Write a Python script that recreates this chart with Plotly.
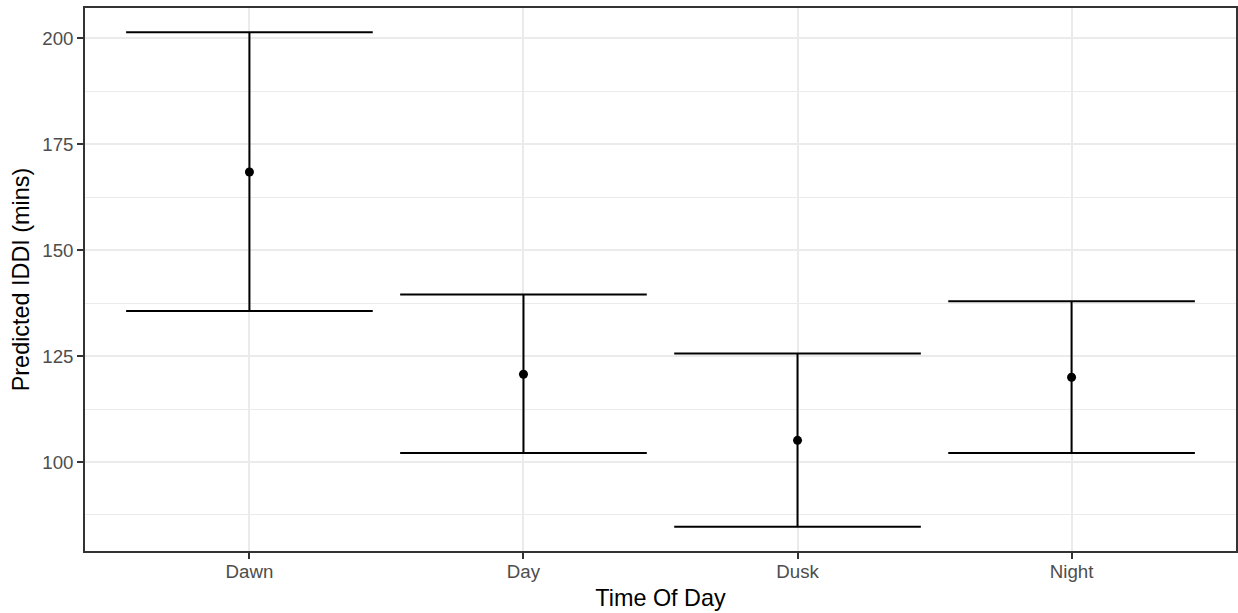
import plotly.graph_objects as go

categories = ["Dawn", "Day", "Dusk", "Night"]
predicted = [168.4, 120.7, 105.1, 120.0]
upper = [201.4, 139.5, 125.6, 137.9]
lower = [135.6, 102.1, 84.7, 102.1]
y_ticks = [100, 125, 150, 175, 200]

bar_width = 0.9
xpos = list(range(1, len(categories) + 1))

ex, ey = [], []
for x, lo, hi in zip(xpos, lower, upper):
    ex += [x - bar_width / 2, x + bar_width / 2, None,
           x - bar_width / 2, x + bar_width / 2, None,
           x, x, None]
    ey += [hi, hi, None, lo, lo, None, lo, hi, None]

fig = go.Figure()
fig.add_trace(go.Scatter(x=ex, y=ey, mode="lines",
                         line=dict(color="black", width=2),
                         hoverinfo="skip", showlegend=False))
fig.add_trace(go.Scatter(x=xpos, y=predicted, mode="markers",
                         marker=dict(color="black", size=9),
                         showlegend=False))

font_family = "Liberation Sans, Arial, sans-serif"
fig.update_layout(
    width=1238, height=613,
    margin=dict(l=85, r=2, t=8, b=62, autoexpand=False),
    paper_bgcolor="white", plot_bgcolor="white",
    font=dict(family=font_family),
    showlegend=False,
)
fig.update_xaxes(
    range=[0.4, 4.6], tickvals=xpos, ticktext=categories,
    showgrid=True, gridcolor="#EBEBEB", gridwidth=2,
    zeroline=False, automargin=False,
    showline=True, mirror=True, linecolor="#333333", linewidth=1.5,
    ticks="outside", ticklen=6, tickwidth=1.5, tickcolor="#333333",
    ticklabelstandoff=-3,
    tickfont=dict(size=18.7, color="#4D4D4D", family=font_family),
    title=dict(text="Time Of Day", font=dict(size=23.4, color="black", family=font_family), standoff=8),
)
fig.update_yaxes(
    range=[79.0, 207.1], tickvals=y_ticks,
    showgrid=True, gridcolor="#EBEBEB", gridwidth=2,
    minor=dict(dtick=12.5, tick0=0, showgrid=True, gridcolor="#EBEBEB", gridwidth=1),
    zeroline=False, automargin=False,
    showline=True, mirror=True, linecolor="#333333", linewidth=1.5,
    ticks="outside", ticklen=6, tickwidth=1.5, tickcolor="#333333",
    tickfont=dict(size=18.7, color="#4D4D4D", family=font_family),
    title=dict(text="Predicted IDDI (mins)", font=dict(size=23.4, color="black", family=font_family), standoff=6),
)

fig.write_html("out.html",
               config={"displayModeBar": False},
               post_script="document.body.style.margin='0';document.body.style.overflow='hidden';")
